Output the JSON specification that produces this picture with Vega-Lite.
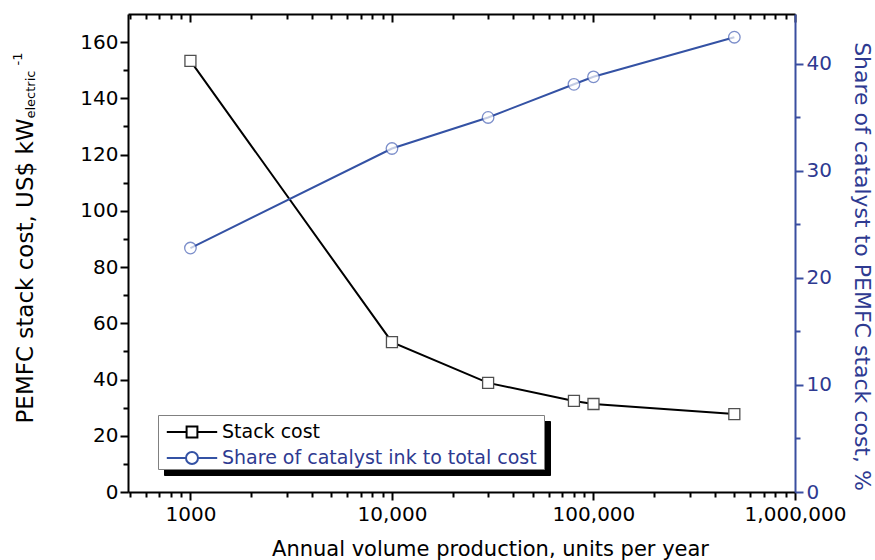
{
  "$schema": "https://vega.github.io/schema/vega-lite/v6.json",
  "width": 667,
  "height": 478,
  "autosize": {"type": "none"},
  "padding": {"left": 128, "top": 14, "right": 80, "bottom": 68},
  "background": "white",
  "config": {"font": "DejaVu Sans", "view": {"stroke": null}, "axis": {"grid": false, "titleFontWeight": "normal"}, "legend": {"titleFontWeight": "normal"}},
  "data": {"values": [
    {"volume": 1000, "series": "Stack cost", "value": 153.3},
    {"volume": 10000, "series": "Stack cost", "value": 53.3},
    {"volume": 30000, "series": "Stack cost", "value": 38.8},
    {"volume": 80000, "series": "Stack cost", "value": 32.4},
    {"volume": 100000, "series": "Stack cost", "value": 31.3},
    {"volume": 500000, "series": "Stack cost", "value": 27.7},
    {"volume": 1000, "series": "Share of catalyst ink to total cost", "value": 22.8},
    {"volume": 10000, "series": "Share of catalyst ink to total cost", "value": 32.1},
    {"volume": 30000, "series": "Share of catalyst ink to total cost", "value": 35.0},
    {"volume": 80000, "series": "Share of catalyst ink to total cost", "value": 38.1},
    {"volume": 100000, "series": "Share of catalyst ink to total cost", "value": 38.8},
    {"volume": 500000, "series": "Share of catalyst ink to total cost", "value": 42.5}
  ]},
  "layer": [
    {
      "transform": [{"filter": "datum.series === 'Stack cost'"}],
      "mark": {"type": "line", "strokeWidth": 2},
      "encoding": {
        "x": {"field": "volume", "type": "quantitative",
          "scale": {"type": "log", "domain": [490, 1000000], "nice": false},
          "axis": {"orient": "bottom", "values": [1000, 10000, 100000, 1000000],
            "labelExpr": "datum.value === 1000 ? '1000' : format(datum.value, ',')",
            "tickSize": 8, "tickWidth": 2, "tickColor": "#000", "domainWidth": 2, "domainColor": "#000",
            "labelFontSize": 20, "labelColor": "#000", "labelPadding": 4, "labelFlush": false,
            "title": "Annual volume production, units per year", "titleFontSize": 21, "titleColor": "#000",
            "titleX": 362, "titleY": 63, "titleAlign": "center", "titleBaseline": "alphabetic"}},
        "y": {"field": "value", "type": "quantitative",
          "scale": {"domain": [0, 170], "nice": false},
          "axis": {"orient": "left", "values": [0, 20, 40, 60, 80, 100, 120, 140, 160],
            "tickSize": 8, "tickWidth": 2, "tickColor": "#000", "domainWidth": 2, "domainColor": "#000",
            "labelFontSize": 20, "labelColor": "#000", "labelPadding": 2,
            "title": "PEMFC stack cost, US$ kW", "titleFontSize": 23, "titleColor": "#000",
            "titleAngle": -90, "titleAlign": "right", "titleBaseline": "alphabetic", "titleX": -96, "titleY": 104}},
        "color": {"field": "series", "type": "nominal",
          "scale": {"domain": ["Stack cost"], "range": ["#000000"]},
          "legend": {"orient": "none", "legendX": 30, "legendY": 401, "zindex": 2,
            "title": "WWW Share of catalyst ink to total cost", "titleOrient": "bottom", "titleOpacity": 0,
            "titleFontSize": 19, "titlePadding": 4, "titleLimit": 800,
            "fillColor": "white", "strokeColor": "#808080", "padding": 4,
            "labelFontSize": 19, "labelLimit": 600, "labelColor": "#000",
            "symbolType": "M-2.1,0H-0.45M0.45,0H2.1M-0.45,-0.45H0.45V0.45H-0.45Z",
            "symbolSize": 576, "symbolStrokeWidth": 2, "symbolFillColor": "white",
            "symbolOffset": 17, "labelOffset": 17}}
      }
    },
    {
      "transform": [{"filter": "datum.series === 'Stack cost'"}],
      "mark": {"type": "point", "shape": "square", "size": 121, "filled": true, "fill": "white", "stroke": "#505050", "strokeWidth": 1.3},
      "encoding": {
        "x": {"field": "volume", "type": "quantitative",
          "scale": {"type": "log", "domain": [490, 1000000], "nice": false},
          "axis": {"orient": "bottom", "values": [500, 600, 700, 800, 900, 2000, 3000, 4000, 5000, 6000, 7000, 8000, 9000, 20000, 30000, 40000, 50000, 60000, 70000, 80000, 90000, 200000, 300000, 400000, 500000, 600000, 700000, 800000, 900000],
            "labels": false, "domain": false, "tickSize": 5, "tickWidth": 2, "tickColor": "#000", "title": null}},
        "y": {"field": "value", "type": "quantitative",
          "scale": {"domain": [0, 170], "nice": false},
          "axis": {"orient": "left", "values": [10, 30, 50, 70, 90, 110, 130, 150],
            "labels": false, "domain": false, "tickSize": 5, "tickWidth": 2, "tickColor": "#000",
            "title": "electric", "titleFontSize": 13, "titleColor": "#000",
            "titleAngle": -90, "titleAlign": "left", "titleBaseline": "alphabetic", "titleX": -94, "titleY": 104}},
        "opacity": {"field": "series", "type": "nominal",
          "scale": {"range": [1]},
          "legend": {"orient": "none", "legendX": 36, "legendY": 407, "zindex": 1,
            "title": "WWW Share of catalyst ink to total cost", "titleOrient": "bottom", "titleColor": "#000",
            "titleFontSize": 19, "titlePadding": 4, "titleLimit": 800,
            "fillColor": "#000", "strokeColor": "#000", "padding": 4,
            "labelFontSize": 19, "labelLimit": 600, "labelColor": "#000",
            "symbolType": "M-2.1,0H-0.45M0.45,0H2.1M-0.45,-0.45H0.45V0.45H-0.45Z",
            "symbolSize": 576, "symbolStrokeWidth": 2, "symbolFillColor": "#000", "symbolStrokeColor": "#000",
            "symbolOffset": 17, "labelOffset": 17}}
      }
    },
    {
      "transform": [{"filter": "datum.series !== 'Stack cost'"}],
      "mark": {"type": "line", "strokeWidth": 2},
      "encoding": {
        "x": {"field": "volume", "type": "quantitative",
          "scale": {"type": "log", "domain": [490, 1000000], "nice": false},
          "axis": {"orient": "top", "values": [1000, 10000, 100000, 1000000],
            "labels": false, "tickSize": -8, "tickWidth": 2, "tickColor": "#000", "domainWidth": 2, "domainColor": "#000",
            "title": "-1", "titleFontSize": 13, "titleColor": "#000",
            "titleAngle": -90, "titleAlign": "left", "titleBaseline": "alphabetic", "titleX": -107, "titleY": 51}},
        "y": {"field": "value", "type": "quantitative",
          "scale": {"domain": [0, 44.67], "nice": false},
          "axis": {"orient": "right", "values": [0, 10, 20, 30, 40],
            "tickSize": 8, "tickWidth": 2, "tickColor": "#3a4ea0", "domainWidth": 2, "domainColor": "#3a4ea0",
            "labelFontSize": 20, "labelColor": "#2e3a91", "labelPadding": 3,
            "title": "Share of catalyst to PEMFC stack cost, %", "titleFontSize": 22, "titleColor": "#2e3a91",
            "titleAngle": 90, "titleAlign": "center", "titleBaseline": "alphabetic", "titleX": 59, "titleY": 252}},
        "color": {"field": "series", "type": "nominal",
          "scale": {"domain": ["Share of catalyst ink to total cost"], "range": ["#3452a4"]},
          "legend": {"orient": "none", "legendX": 30, "legendY": 427, "zindex": 3, "title": null,
            "padding": 4, "labelFontSize": 19, "labelLimit": 600, "labelColor": "#2e3a91",
            "symbolType": "M-2.1,0H-0.5M0.5,0H2.1M0.5,0A0.5,0.5 0 1,1 -0.5,0A0.5,0.5 0 1,1 0.5,0Z",
            "symbolSize": 576, "symbolStrokeWidth": 2, "symbolFillColor": "white",
            "symbolOffset": 17, "labelOffset": 17}}
      }
    },
    {
      "transform": [{"filter": "datum.series !== 'Stack cost'"}],
      "mark": {"type": "point", "shape": "circle", "size": 133, "filled": true, "fill": "white", "stroke": "#4660b5", "strokeWidth": 1.3},
      "encoding": {
        "x": {"field": "volume", "type": "quantitative",
          "scale": {"type": "log", "domain": [490, 1000000], "nice": false},
          "axis": {"orient": "top", "values": [500, 600, 700, 800, 900, 2000, 3000, 4000, 5000, 6000, 7000, 8000, 9000, 20000, 30000, 40000, 50000, 60000, 70000, 80000, 90000, 200000, 300000, 400000, 500000, 600000, 700000, 800000, 900000],
            "labels": false, "domain": false, "tickSize": -5, "tickWidth": 2, "tickColor": "#000", "title": null}},
        "y": {"field": "value", "type": "quantitative",
          "scale": {"domain": [0, 44.67], "nice": false},
          "axis": {"orient": "right", "values": [5, 15, 25, 35],
            "labels": false, "domain": false, "tickSize": 5, "tickWidth": 2, "tickColor": "#3a4ea0", "title": null}}
      }
    }
  ],
  "resolve": {"scale": {"x": "independent", "y": "independent", "color": "independent"}, "axis": {"x": "independent", "y": "independent"}}
}
